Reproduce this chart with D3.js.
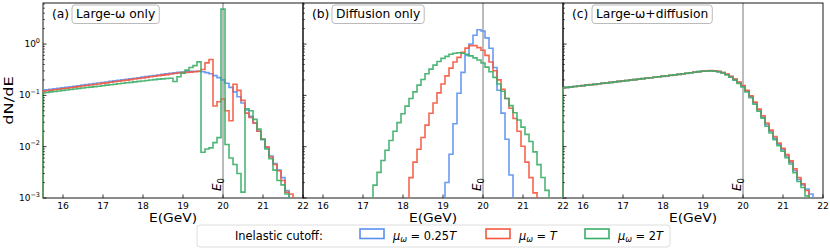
<!DOCTYPE html>
<html>
<head>
<meta charset="utf-8">
<script src="https://cdn.jsdelivr.net/npm/d3@7/dist/d3.min.js"></script>
<style>
  body { margin: 0; background: #fff; }
  text { font-family: "DejaVu Sans", sans-serif; fill: #000; }
</style>
</head>
<body>
<div id="chart"></div>
<script>
/** Histogram bins: centres 15.5 ... 21.9 GeV, width 0.1 */
const binWidth = 0.1;
const binCenters = d3.range(65).map(i => +(15.5 + i * binWidth).toFixed(1));
const xTicks = [16, 17, 18, 19, 20, 21, 22];
const yMajor = [1e-3, 1e-2, 1e-1, 1e0];
const yTickLabels = ["\u22123", "\u22122", "\u22121", "0"];
const seriesNames = ["\u03bc\u03c9 = 0.25T", "\u03bc\u03c9 = T", "\u03bc\u03c9 = 2T"];
const panelTitles = ["Large-\u03c9 only", "Diffusion only", "Large-\u03c9+diffusion"];
const panelTags = ["(a)", "(b)", "(c)"];
const E0 = 20;

/** (a) Large-omega only */
const aBlue = [0.125,0.128,0.131,0.134,0.137,0.140,0.143,0.147,0.150,0.154,
  0.158,0.162,0.166,0.170,0.174,0.178,0.182,0.187,0.192,0.196,
  0.201,0.206,0.211,0.216,0.221,0.227,0.232,0.238,0.244,0.250,
  0.256,0.262,0.268,0.274,0.280,0.286,0.290,0.294,0.295,0.294,
  0.288,0.278,0.263,0.243,0.222,0.200,0.172,0.143,0.117,0.094,
  0.071,0.052,0.039,0.029,0.020,0.0137,0.0095,0.0066,0.0047,0.0035,
  0.0025,0.0014,0,0,0];
const aRed = [0.120,0.123,0.126,0.129,0.132,0.135,0.138,0.141,0.145,0.148,
  0.152,0.156,0.159,0.163,0.167,0.171,0.175,0.180,0.184,0.189,
  0.193,0.198,0.203,0.208,0.213,0.218,0.224,0.230,0.236,0.242,
  0.248,0.254,0.260,0.266,0.272,0.277,0.280,0.284,0.288,0.295,
  0.320,0.430,0.500,0.062,0.075,0.085,0.050,0.032,0.165,0.125,
  0.080,0.045,0.037,0.029,0.020,0.0140,0.0100,0.0063,0.0045,0.0034,
  0.0022,0.0013,0.0012,0,0];
const aGreen = [0.112,0.114,0.117,0.119,0.122,0.125,0.127,0.130,0.133,0.136,
  0.139,0.142,0.145,0.148,0.151,0.154,0.158,0.161,0.165,0.168,
  0.172,0.176,0.179,0.183,0.187,0.191,0.195,0.199,0.203,0.207,
  0.210,0.213,0.216,0.186,0.230,0.270,0.310,0.350,0.380,0.450,
  0.0078,0.0090,0.0095,0.0120,0.0150,4.8,0.0110,0.0060,0.0045,0.0030,
  0.0013,0.055,0.050,0.034,0.022,0.0140,0.0090,0.0058,0.0035,0.0022,
  0.0018,0.0012,0,0,0];

/** (b) Diffusion only */
const bBlue = [0,0,0,0,0,0,0,0,0,0,
  0,0,0,0,0,0,0,0,0,0,
  0,0,0,0,0,0,0,0,0,0,
  0,0,0,0,0,0,0.002,0.0071,0.028,0.11,
  0.28,0.60,1.00,1.48,1.90,1.80,1.32,0.83,0.35,0.126,
  0.045,0.014,0.0028,0.0004,0,0,0,0,0,0,
  0,0,0,0,0];
const bRed = [0,0,0,0,0,0,0,0,0,0,
  0,0,0,0,0,0,0,0,0,0,
  0,0,0,0,0,0,0.0008,0.0025,0.005,0.0089,
  0.0151,0.0263,0.0447,0.0708,0.112,0.166,0.24,0.339,0.447,0.55,
  0.692,0.832,0.933,0.933,0.851,0.759,0.603,0.447,0.302,0.20,
  0.132,0.0871,0.0562,0.0355,0.020,0.0102,0.005,0.0025,0.00126,0,
  0,0,0,0,0];
const bGreen = [0,0,0,0,0,0,0,0,0,0,
  0,0,0,0,0,0,0,0.0008,0.00178,0.00316,
  0.00537,0.00851,0.0132,0.020,0.0295,0.0437,0.0617,0.0871,0.117,0.158,
  0.204,0.263,0.324,0.389,0.457,0.525,0.575,0.631,0.661,0.676,
  0.661,0.631,0.589,0.537,0.49,0.427,0.355,0.288,0.224,0.166,
  0.12,0.0871,0.0631,0.0457,0.0331,0.024,0.0174,0.0126,0.00794,0.00447,
  0.00251,0.00141,0,0,0];

/** (c) Large-omega + diffusion */
const cBlue = [0.140,0.143,0.146,0.149,0.152,0.155,0.158,0.161,0.165,0.168,
  0.172,0.175,0.179,0.183,0.187,0.191,0.195,0.199,0.203,0.207,
  0.212,0.216,0.221,0.226,0.231,0.236,0.241,0.246,0.252,0.257,
  0.263,0.269,0.276,0.283,0.290,0.296,0.300,0.302,0.300,0.292,
  0.278,0.258,0.232,0.205,0.178,0.153,0.122,0.095,0.071,0.052,
  0.038,0.027,0.020,0.0147,0.0112,0.0089,0.0066,0.0050,0.0034,0.0023,
  0.0018,0.0015,0.0012,0,0];
const cRed = [0.139,0.142,0.146,0.149,0.151,0.155,0.158,0.162,0.164,0.168,
  0.171,0.176,0.179,0.182,0.187,0.190,0.195,0.200,0.203,0.208,
  0.211,0.217,0.220,0.226,0.230,0.237,0.240,0.247,0.251,0.258,
  0.262,0.270,0.275,0.284,0.289,0.297,0.299,0.303,0.299,0.293,
  0.279,0.260,0.234,0.207,0.181,0.156,0.125,0.098,0.074,0.054,
  0.040,0.029,0.021,0.0158,0.0118,0.0093,0.0070,0.0053,0.0037,0.0025,
  0.0019,0.0014,0,0,0];
const cGreen = [0.141,0.143,0.145,0.149,0.152,0.154,0.158,0.161,0.164,0.168,
  0.172,0.175,0.178,0.183,0.186,0.191,0.194,0.199,0.203,0.206,
  0.212,0.215,0.221,0.225,0.231,0.235,0.241,0.245,0.252,0.256,
  0.263,0.268,0.276,0.282,0.290,0.295,0.299,0.300,0.296,0.287,
  0.272,0.251,0.225,0.198,0.171,0.146,0.116,0.090,0.067,0.049,
  0.036,0.025,0.0185,0.0137,0.0104,0.0082,0.0061,0.0046,0.0031,0.0021,
  0.0016,0.0011,0,0,0];

const panelSeries = [[aBlue, aRed, aGreen], [bBlue, bRed, bGreen], [cBlue, cRed, cGreen]];
const colors = ["#5b8ff0", "#f5573f", "#3aae68"];

/** Layout */
const width = 830, height = 249;
const plotLeft = 43, plotTop = 3, panelW = 260, plotH = 195;

const x = d3.scaleLinear().domain([15.5, 22]).range([0, panelW]);
const y = d3.scaleLog().domain([1e-3, Math.pow(10, 0.8)]).range([plotH, 0]);

const svg = d3.select("#chart").append("svg")
  .attr("width", width).attr("height", height);

/** Text that is widened along its reading direction, like the original's labels */
const wideText = (parent, tx, ty, sx, rotated) => parent.append("g")
  .attr("transform", `translate(${tx},${ty})${rotated ? " rotate(-90)" : ""} scale(${sx},1)`)
  .append("text");

/** Step outline of one histogram (edges kept inside the x domain) */
const stepLine = d3.line().x(d => d[0]).y(d => d[1]);
const edgeX = e => x(Math.max(x.domain()[0], Math.min(x.domain()[1], e)));
const stepPoints = (values) => {
  const floor = plotH + 6;
  const yy = v => Math.min(y(Math.max(v, 1e-4)), floor);
  const first = values.findIndex(v => v > 0);
  let last = values.length - 1;
  while (values[last] <= 0) last--;
  const pts = [[edgeX(binCenters[first] - binWidth / 2), floor]];
  for (let i = first; i <= last; i++) {
    pts.push([edgeX(binCenters[i] - binWidth / 2), yy(values[i])]);
    pts.push([edgeX(binCenters[i] + binWidth / 2), yy(values[i])]);
  }
  pts.push([edgeX(binCenters[last] + binWidth / 2), floor]);
  return pts;
};

/** Minor ticks of the log axis */
const yMinor = [];
yMajor.forEach(d => d3.range(2, 10).forEach(k => {
  const v = k * d;
  if (v < y.domain()[1]) yMinor.push(v);
}));

panelSeries.forEach((series, p) => {
  const g = svg.append("g").attr("transform", `translate(${plotLeft + p * panelW},${plotTop})`);

  g.append("clipPath").attr("id", "clip" + p)
    .append("rect").attr("x", -1).attr("width", panelW + 1).attr("height", plotH);

  /** E0 marker */
  g.append("line")
    .attr("x1", x(E0)).attr("x2", x(E0)).attr("y1", 0).attr("y2", plotH)
    .attr("stroke", "#777").attr("stroke-width", 1);

  /** Frame */
  g.append("rect").attr("width", panelW).attr("height", plotH)
    .attr("fill", "none").attr("stroke", "#000").attr("stroke-width", 0.9);

  /** Histograms */
  const plot = g.append("g").attr("clip-path", `url(#clip${p})`);
  series.forEach((values, s) => {
    plot.append("path")
      .attr("d", stepLine(stepPoints(values)))
      .attr("fill", "none")
      .attr("stroke", colors[s])
      .attr("stroke-width", 1.6)
      .attr("stroke-opacity", 0.9)
      .attr("stroke-linejoin", "miter");
  });

  /** E0 label */
  const e0 = g.append("text")
    .attr("transform", `translate(${x(E0) - 2},${plotH - 7}) rotate(-90)`)
    .attr("font-size", 12);
  e0.append("tspan").attr("font-style", "italic").text("E");
  e0.append("tspan").attr("font-size", 8.5).attr("dy", 3).text("0");

  /** x ticks */
  xTicks.forEach(t => {
    g.append("line").attr("x1", x(t)).attr("x2", x(t))
      .attr("y1", plotH).attr("y2", plotH - 3.5)
      .attr("stroke", "#000").attr("stroke-width", 0.8);
    g.append("text").attr("x", x(t)).attr("y", plotH + 11)
      .attr("text-anchor", "middle").attr("font-size", 9.2).text(t);
  });
  wideText(g, panelW / 2, plotH + 24, 1.15, false)
    .attr("text-anchor", "middle").attr("font-size", 12).text("E(GeV)");

  /** y ticks */
  yMajor.forEach(t => {
    g.append("line").attr("x1", 0).attr("x2", 3.5)
      .attr("y1", y(t)).attr("y2", y(t))
      .attr("stroke", "#000").attr("stroke-width", 0.8);
  });
  yMinor.forEach(t => {
    g.append("line").attr("x1", 0).attr("x2", 2)
      .attr("y1", y(t)).attr("y2", y(t))
      .attr("stroke", "#000").attr("stroke-width", 0.6);
  });

  /** Panel tag and boxed title */
  g.append("text").attr("x", 9).attr("y", 14.5).attr("font-size", 12.3).text(panelTags[p]);
  const title = g.append("text").attr("x", 33).attr("y", 14.5)
    .attr("font-size", 12.3).text(panelTitles[p]);
  const bb = title.node().getBBox();
  g.insert("rect", "text")
    .attr("x", bb.x - 4).attr("y", 2).attr("width", bb.width + 8).attr("height", 18.5)
    .attr("rx", 3).attr("fill", "#fff").attr("stroke", "#aaa").attr("stroke-width", 0.8);
});

/** y tick labels and axis label */
yMajor.forEach((t, i) => {
  const lab = svg.append("text")
    .attr("x", plotLeft - 3).attr("y", plotTop + y(t) + 3)
    .attr("text-anchor", "end").attr("font-size", 9);
  lab.append("tspan").text("10");
  lab.append("tspan").attr("font-size", 6.5).attr("dy", -4.5).text(yTickLabels[i]);
});
wideText(svg, 13, plotTop + plotH / 2, 1.3, true)
  .attr("text-anchor", "middle").attr("font-size", 12.5).text("dN/dE");

/** Legend */
const legend = svg.append("g");
legend.append("rect")
  .attr("x", 197).attr("y", 225).attr("width", 473).attr("height", 22)
  .attr("rx", 3).attr("fill", "#fff").attr("stroke", "#d5d5d5").attr("stroke-width", 0.8);
legend.append("text").attr("x", 235).attr("y", 240)
  .attr("font-size", 11.4).text("Inelastic cutoff:");
const patchX = [360, 486, 585];
seriesNames.forEach((name, s) => {
  legend.append("rect")
    .attr("x", patchX[s]).attr("y", 229).attr("width", 24).attr("height", 9.5)
    .attr("fill", "#fff").attr("stroke", colors[s]).attr("stroke-width", 1.6);
  const [, rhs] = name.split(" = ");
  const t = legend.append("text").attr("x", patchX[s] + 33).attr("y", 240).attr("font-size", 11.4);
  t.append("tspan").attr("font-style", "italic").text("\u03bc");
  t.append("tspan").attr("font-style", "italic").attr("font-size", 8).attr("dy", 2).text("\u03c9");
  t.append("tspan").attr("dy", -2).text(" = ");
  const num = rhs.replace("T", "");
  if (num) t.append("tspan").text(num);
  t.append("tspan").attr("font-style", "italic").text("T");
});
</script>
</body>
</html>
